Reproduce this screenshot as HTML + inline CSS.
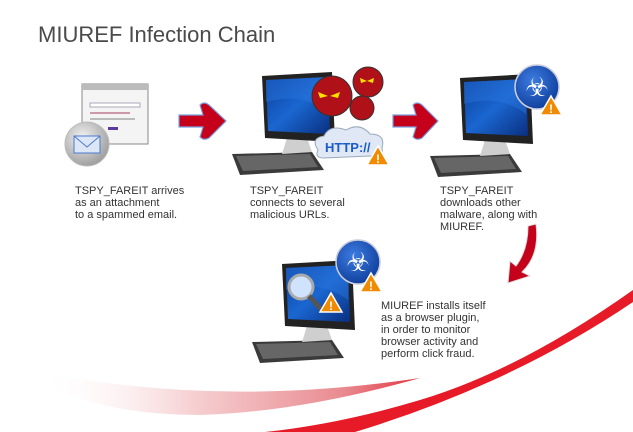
<!DOCTYPE html>
<html><head><meta charset="utf-8"><style>
html,body{margin:0;padding:0;background:#fff;}
svg{display:block}
text{font-family:"Liberation Sans",sans-serif;}
.t{font-size:11px;fill:#333;}
</style></head><body>
<svg width="633" height="432" viewBox="0 0 633 432" xmlns="http://www.w3.org/2000/svg">
<defs>
<linearGradient id="scr" x1="0" y1="0" x2="1" y2="1"><stop offset="0" stop-color="#0b3f9e"/><stop offset="0.5" stop-color="#1a66d0"/><stop offset="1" stop-color="#0a2f80"/></linearGradient>
<linearGradient id="sw2" x1="0" y1="0" x2="1" y2="0"><stop offset="0" stop-color="#fff" stop-opacity="0"/><stop offset="0.4" stop-color="#f6d0d2"/><stop offset="0.8" stop-color="#e98a90"/><stop offset="1" stop-color="#e3343d"/></linearGradient>
<radialGradient id="bio" cx="0.4" cy="0.35" r="0.7"><stop offset="0" stop-color="#3d7be0"/><stop offset="1" stop-color="#0d3d9a"/></radialGradient>
<radialGradient id="env" cx="0.4" cy="0.35" r="0.7"><stop offset="0" stop-color="#f2f2f2"/><stop offset="1" stop-color="#9a9a9a"/></radialGradient>
<g id="pc">
  <path d="M-30 82 L50 80 L62 98 L-22 103 Z" fill="#3a3a3a"/>
  <path d="M-26 84 L48 82 L56 95 L-19 99 Z" fill="#666"/>
  <path d="M25 66 L45 66 L50 80 L20 82 Z" fill="#cfcfcf"/>
  <path d="M0 4 L70 0 L73 70 L3 66 Z" fill="#222"/>
  <path d="M4 8 L66 5 L68 62 L6 59 Z" fill="url(#scr)"/>
  <path d="M4 30 Q40 20 66 40 L66 5 L4 8Z" fill="#2d7ae0" opacity="0.4"/>
</g>
<g id="warn"><path d="M0 -10 L11 9 L-11 9 Z" fill="#f08a00" stroke="#fff" stroke-width="1.5"/><text x="0" y="7" text-anchor="middle" font-size="12" font-weight="bold" fill="#fff">!</text></g>
<g id="biohaz"><circle r="22" fill="url(#bio)" stroke="#ccd" stroke-width="1.5"/><text x="0" y="9" text-anchor="middle" font-size="26" fill="#fff" font-family="DejaVu Sans">☣</text></g>
</defs>

<text x="38" y="42" font-size="22" fill="#4a4a4a">MIUREF Infection Chain</text>

<rect x="82" y="84" width="66" height="60" fill="#f4f4f4" stroke="#888"/>
<rect x="82" y="84" width="66" height="6" fill="#bbb"/>
<rect x="90" y="103" width="50" height="4" fill="#fff" stroke="#aab"/>
<rect x="90" y="112" width="40" height="2" fill="#c9a"/>
<rect x="90" y="118" width="45" height="2" fill="#bbb"/>
<rect x="108" y="127" width="10" height="3" fill="#5a3aa0"/>
<circle cx="87" cy="144" r="22" fill="url(#env)" stroke="#bbb"/>
<rect x="74" y="136" width="26" height="17" fill="#dde6f5" stroke="#4a7bd0"/>
<path d="M74 136 L87 147 L100 136" fill="none" stroke="#4a7bd0"/>

<path d="M179 115 L203 115 L200 105 Q204 101 209 105 L226 121 L209 138 Q204 141 200 137 L203 127 L179 127 Z" fill="#c5001a" stroke="#7aa0e0" stroke-width="1.2"/>
<path d="M393 115 L416 115 L413 105 Q417 101 422 105 L438 121 L422 138 Q417 141 413 137 L416 127 L393 127 Z" fill="#c5001a" stroke="#7aa0e0" stroke-width="1.2"/>

<use href="#pc" x="262" y="72"/>
<g fill="#b01018" stroke="#333" stroke-width="1">
<circle cx="332" cy="96" r="20"/><circle cx="368" cy="82" r="15"/><circle cx="362" cy="108" r="12"/>
</g>
<g fill="#ffe000"><path d="M318 92 l10 4 l-8 2z"/><path d="M340 92 l-10 4 l8 2z"/><path d="M360 78 l7 3 l-6 2z"/><path d="M374 78 l-7 3 l6 2z"/></g>
<path d="M318 150 Q310 138 324 136 Q330 124 346 130 Q360 122 370 134 Q386 134 382 148 Q384 158 370 156 L324 158 Q314 158 318 150Z" fill="#e0e8f5" stroke="#9ab" />
<text x="325" y="152" font-size="13" font-weight="bold" fill="#1a5cc8">HTTP://</text>
<use href="#warn" x="378" y="156"/>

<use href="#pc" x="460" y="74"/>
<use href="#biohaz" x="537" y="87"/>
<use href="#warn" x="551" y="106"/>

<path d="M528 226 L536 224 Q540 255 522 272 L530 276 L508 283 L510 261 L516 266 Q528 250 528 226Z" fill="#c5001a" stroke="#ddd" stroke-width="1"/>

<path d="M40 372 Q220 408 420 378 Q300 412 200 415 Q120 415 60 392 Z" fill="url(#sw2)"/>
<path d="M633 290 Q520 370 420 400 Q340 424 265 432 L355 432 Q510 385 633 302 Z" fill="#e61b27"/>

<use href="#pc" x="282" y="260"/>
<circle cx="301" cy="287" r="12" fill="#cfe3ff" stroke="#aaa" stroke-width="3"/>
<path d="M309 296 L322 310" stroke="#555" stroke-width="5"/>
<use href="#warn" x="331" y="303"/>
<use href="#biohaz" x="358" y="262"/>
<use href="#warn" x="371" y="283"/>

<g class="t">
<text x="75" y="194">TSPY_FAREIT arrives</text>
<text x="75" y="206">as an attachment</text>
<text x="75" y="218">to a spammed email.</text>
<text x="250" y="194">TSPY_FAREIT</text>
<text x="250" y="206">connects to several</text>
<text x="250" y="218">malicious URLs.</text>
<text x="440" y="194">TSPY_FAREIT</text>
<text x="440" y="206">downloads other</text>
<text x="440" y="218">malware, along with</text>
<text x="440" y="230">MIUREF.</text>
<text x="381" y="309">MIUREF installs itself</text>
<text x="381" y="321">as a browser plugin,</text>
<text x="381" y="333">in order to monitor</text>
<text x="381" y="345">browser activity and</text>
<text x="381" y="357">perform click fraud.</text>
</g>
</svg>
</body></html>
